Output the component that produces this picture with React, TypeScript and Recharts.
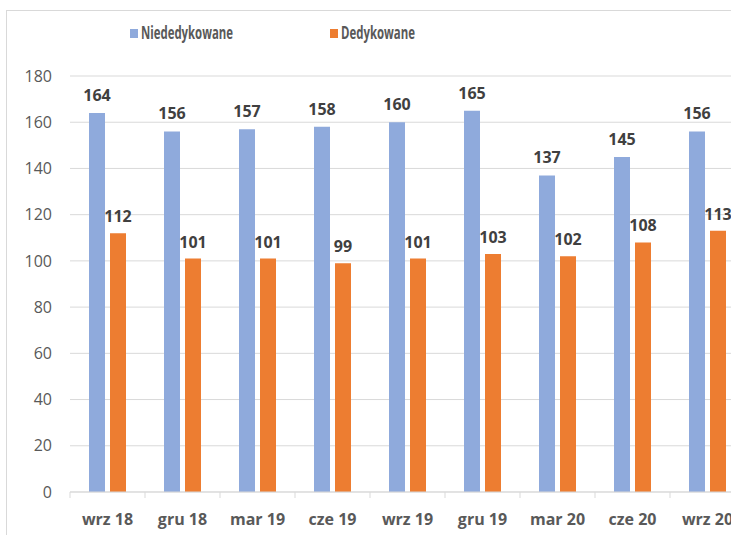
import React from 'react';
import {
  BarChart,
  Bar,
  XAxis,
  YAxis,
  CartesianGrid,
  Legend,
  LabelList,
} from 'recharts';

const categories = ['wrz 18', 'gru 18', 'mar 19', 'cze 19', 'wrz 19', 'gru 19', 'mar 20', 'cze 20', 'wrz 20'];
const niededykowane = [164, 156, 157, 158, 160, 165, 137, 145, 156];
const dedykowane = [112, 101, 101, 99, 101, 103, 102, 108, 113];
const yTicks = [0, 20, 40, 60, 80, 100, 120, 140, 160, 180];

const BLUE = '#8faadc';
const ORANGE = '#ed7d31';
const FONT = '"Open Sans", sans-serif';

const data = categories.map((name, i) => ({
  name,
  Niededykowane: niededykowane[i],
  Dedykowane: dedykowane[i],
}));

const XTick = ({ x, y, payload }: any) => {
  const off = payload && payload.offset ? payload.offset : 37.5;
  return (
    <g>
      <line x1={x - off} x2={x - off} y1={y} y2={y + 6} stroke="#d9d9d9" />
      <text
        x={x}
        y={y + 33}
        textAnchor="middle"
        fill="#595959"
        fontSize={16}
        fontWeight={700}
        fontFamily={FONT}
      >
        {payload.value}
      </text>
    </g>
  );
};

const LegendContent = () => {
  const items = [
    { label: 'Niededykowane', color: BLUE, x: 130, w: 92 },
    { label: 'Dedykowane', color: ORANGE, x: 330, w: 74 },
  ];
  return (
    <svg width={500} height={36} style={{ display: 'block' }}>
      {items.map((it) => (
        <g key={it.label}>
          <rect x={it.x} y={15} width={8} height={9} fill={it.color} />
          <text
            x={it.x + 11}
            y={25}
            fill="#595959"
            fontSize={18}
            fontWeight={700}
            fontFamily={FONT}
            textLength={it.w}
            lengthAdjust="spacingAndGlyphs"
          >
            {it.label}
          </text>
        </g>
      ))}
    </svg>
  );
};

export default function App() {
  return (
    <div
      style={{
        position: 'fixed',
        left: 0,
        top: 0,
        width: 731,
        height: 535,
        overflow: 'hidden',
        background: '#fff',
      }}
    >
      <div
        style={{
          position: 'absolute',
          left: 6,
          top: 10,
          width: 800,
          height: 600,
          borderLeft: '1px solid #d9d9d9',
          borderTop: '1px solid #d9d9d9',
        }}
      />
      <div style={{ position: 'absolute', left: 0, top: 0 }}>
        <BarChart
          width={760}
          height={535}
          data={data}
          margin={{ top: 76, right: 15, bottom: 0, left: 0 }}
          barSize={16}
          barGap={5}
        >
          <CartesianGrid vertical={false} stroke="#d9d9d9" />
          <XAxis
            dataKey="name"
            height={43}
            tickSize={0}
            tickMargin={0}
            tickLine={false}
            stroke="#d9d9d9"
            tick={<XTick />}
            interval={0}
          />
          <YAxis
            width={70}
            domain={[0, 180]}
            ticks={yTicks}
            axisLine={false}
            tickLine={false}
            tickSize={6}
            tickMargin={12}
            tick={{ fill: '#595959', fontSize: 16, fontFamily: FONT }}
          />
          <Legend
            verticalAlign="middle"
            layout="horizontal"
            wrapperStyle={{ top: 14, left: 0, width: 500 }}
            content={<LegendContent />}
          />
          <Bar dataKey="Niededykowane" fill={BLUE} isAnimationActive={false}>
            <LabelList
              dataKey="Niededykowane"
              position="top"
              offset={12}
              fill="#404040"
              fontSize={16}
              fontWeight={700}
              fontFamily={FONT}
            />
          </Bar>
          <Bar dataKey="Dedykowane" fill={ORANGE} isAnimationActive={false}>
            <LabelList
              dataKey="Dedykowane"
              position="top"
              offset={11}
              fill="#404040"
              fontSize={16}
              fontWeight={700}
              fontFamily={FONT}
            />
          </Bar>
        </BarChart>
      </div>
    </div>
  );
}
